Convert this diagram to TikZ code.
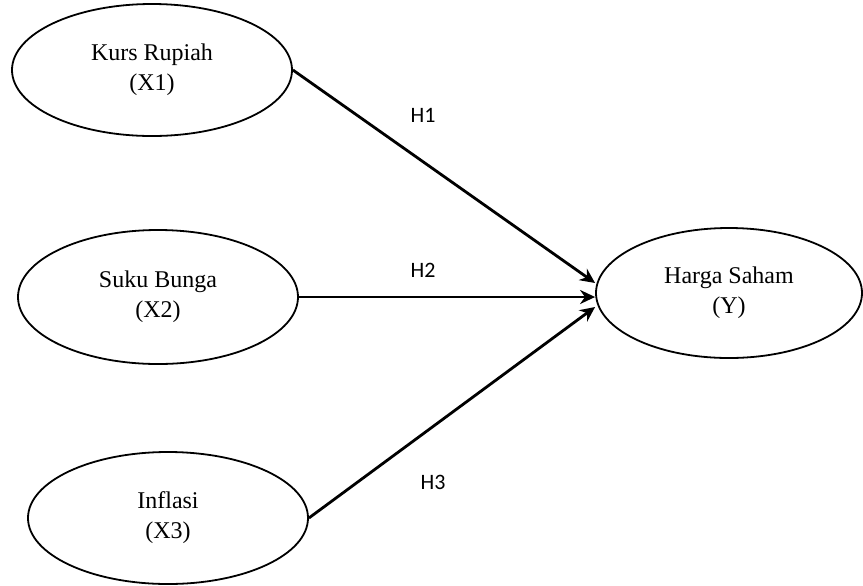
\documentclass[tikz,border=0pt]{standalone}
\usepackage{fontspec}
\setmainfont{Liberation Serif}
\newfontfamily\lblfont{Carlito}
\usepackage{tikz}
\usetikzlibrary{arrows.meta,positioning,shapes.geometric}

\begin{document}
\begin{tikzpicture}[
    x=0.5pt, y=-0.5pt,
    var/.style={draw, ellipse, line width=0.9pt, minimum width=140pt,
                minimum height=66pt, inner sep=0pt, align=center,
                font=\fontsize{12}{15}\selectfont},
    arr/.style={-{Stealth[length=7.5pt, width=7pt]}, line width=1.4pt},
    hyp/.style={font=\lblfont\fontsize{11}{13}\selectfont}
]
    \useasboundingbox (0,0) rectangle (863,585);

    \node[var] (kurs) at (152,70) {Kurs Rupiah\\(X1)};
    \node[var, minimum height=67pt] (suku) at (158,297) {Suku Bunga\\(X2)};
    \node[var] (infl) at (168,518) {Inflasi\\(X3)};
    \node[var, minimum width=133pt, minimum height=65pt] (harga) at (729,293) {Harga Saham\\(Y)};

    \node[hyp] (h1) at (423,115) {H1};
    \node[hyp] (h2) at (423,270) {H2};
    \node[hyp] (h3) at (433,482) {H3};

    \draw[arr] (kurs.east) -- ([yshift=5pt]harga.west);
    \draw[arr] (suku.east) -- ([yshift=-2pt]harga.west);
    \draw[arr] (infl.east) -- ([yshift=-7pt]harga.west);
\end{tikzpicture}
\end{document}
